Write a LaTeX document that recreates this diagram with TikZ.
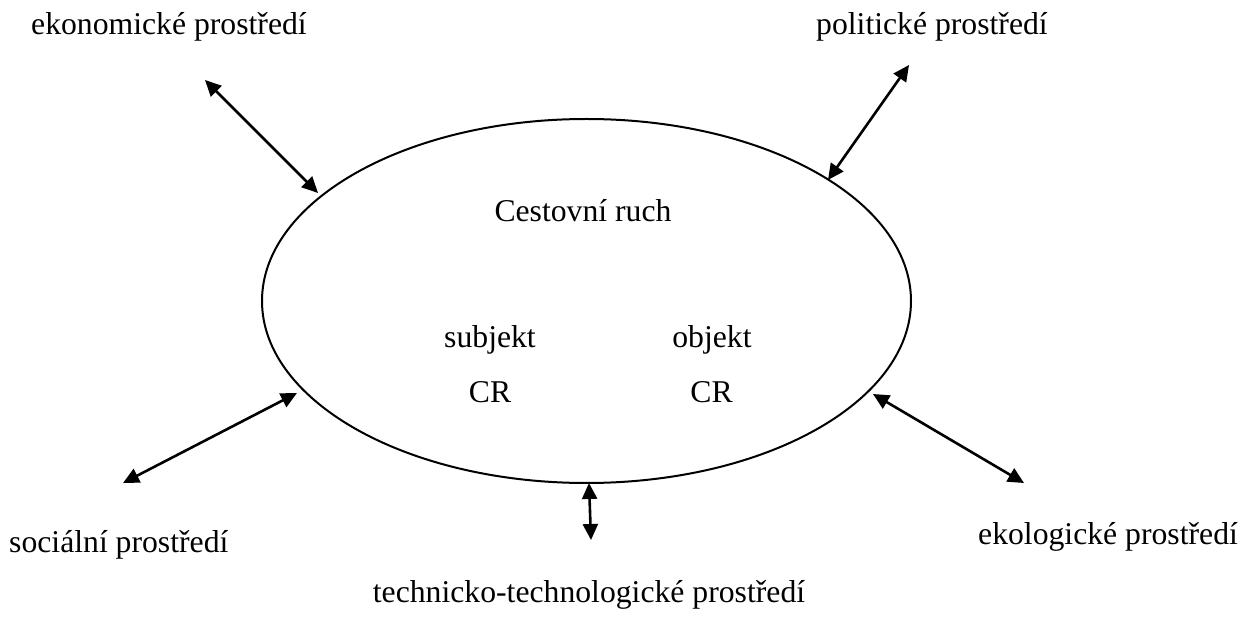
\documentclass[tikz,border=0pt]{standalone}
\usepackage{fontspec}
\setmainfont{Liberation Serif}
\usetikzlibrary{shapes.geometric,arrows.meta}
\tikzset{
  lbl/.style={inner sep=0pt, anchor=base, font=\fontsize{31.7}{36}\selectfont},
  lblw/.style={inner sep=0pt, anchor=base west, font=\fontsize{31.7}{36}\selectfont},
  rel/.style={line width=2.6pt, {Triangle[length=16pt,width=15pt]}-{Triangle[length=16pt,width=15pt]}},
  oval/.style={draw, ellipse, line width=2pt, inner sep=0pt, minimum width=649pt, minimum height=364pt}
}
\begin{document}
\begin{tikzpicture}[x=1pt,y=-1pt]
\useasboundingbox (0,0) rectangle (1243,617);
\node[oval] (cr) at (586.5,301) {};
\node[lbl] (title) at (583,222) {Cestovní ruch};
\node[lbl] (subj) at (490,348) {subjekt};
\node[lbl] (subjcr) at (490,403) {CR};
\node[lbl] (obj) at (712,348) {objekt};
\node[lbl] (objcr) at (711.5,403) {CR};
\node[lblw] (eko) at (31,35) {ekonomické prostředí};
\node[lblw] (pol) at (816,35) {politické prostředí};
\node[lblw] (soc) at (9,552) {sociální prostředí};
\node[lblw] (ekol) at (978,544) {ekologické prostředí};
\node[lbl] (tech) at (589,602) {technicko-technologické prostředí};
\coordinate (e1) at (205,80);   \coordinate (e2) at (318,193);
\coordinate (p1) at (909,65);   \coordinate (p2) at (828,180);
\coordinate (s1) at (123,483);  \coordinate (s2) at (297,393);
\coordinate (t1) at (589,483);  \coordinate (t2) at (591,540);
\coordinate (k1) at (873,394);  \coordinate (k2) at (1024,483);
\draw[rel] (e1) -- (e2);
\draw[rel] (p1) -- (p2);
\draw[rel] (s1) -- (s2);
\draw[rel] (t1) -- (t2);
\draw[rel] (k1) -- (k2);
\end{tikzpicture}
\end{document}
